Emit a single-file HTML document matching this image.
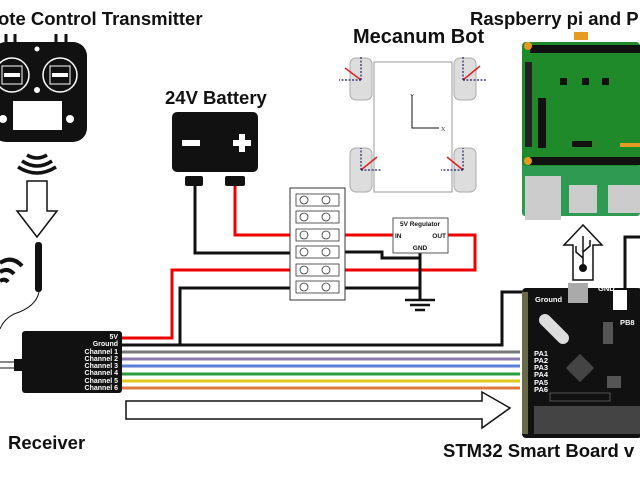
<!DOCTYPE html>
<html><head><meta charset="utf-8"><style>
html,body{margin:0;padding:0;background:#fff;width:640px;height:480px;overflow:hidden}
svg{display:block;font-family:"Liberation Sans",sans-serif}
</style></head><body>
<svg width="640" height="480" viewBox="0 0 640 480" xmlns="http://www.w3.org/2000/svg">
<rect width="640" height="480" fill="#fff"/>
<g>
<path d="M6,42 v-8 M15,42 v-8 M56,42 v-8 M66,42 v-8" stroke="#111" stroke-width="3"/>
<rect x="-8" y="42" width="95" height="100" rx="14" fill="#111"/>
<circle cx="12" cy="75" r="17" fill="none" stroke="#fff" stroke-width="1.5"/>
<circle cx="60" cy="75" r="17" fill="none" stroke="#fff" stroke-width="1.5"/>
<rect x="2" y="66" width="20" height="18" fill="none" stroke="#fff"/><rect x="50" y="66" width="20" height="18" fill="none" stroke="#fff"/>
<rect x="4" y="73" width="16" height="4" fill="#fff"/><rect x="52" y="73" width="16" height="4" fill="#fff"/>
<circle cx="37" cy="49" r="2.5" fill="#fff"/><circle cx="37" cy="90" r="3" fill="#fff"/>
<rect x="13" y="101" width="49" height="29" fill="#fff"/>
<circle cx="3" cy="119" r="4" fill="#fff"/><circle cx="70" cy="119" r="4" fill="#fff"/>
</g>
<g fill="none" stroke="#111" stroke-width="3.5">
<path d="M27,155 q10,6 20,0"/><path d="M22,161 q15,10 30,0"/><path d="M18,167 q19,12 38,0"/>
</g>
<path d="M27,181 h20 v30 h10 l-20,26 l-20,-26 h10 z" fill="#fff" stroke="#111" stroke-width="1.5"/>
<rect x="35" y="242" width="7" height="50" rx="3" fill="#111"/>
<path d="M0,263 q12,-8 22,3 M0,272 q8,-5 14,2 M0,281 q5,-3 8,1" fill="none" stroke="#111" stroke-width="4"/>
<path d="M39,292 q-3,15 -25,22 q-10,5 -14,15" fill="none" stroke="#111" stroke-width="1"/>
<path d="M0,362 h22 M0,368 h22" stroke="#888" stroke-width="2"/>
<rect x="14" y="359" width="10" height="12" fill="#111"/>
<rect x="22" y="331" width="100" height="62" rx="3" fill="#111"/>
<g fill="#fff" font-size="7" font-weight="bold" text-anchor="end">
<text x="118" y="339">5V</text><text x="118" y="346">Ground</text><text x="118" y="354">Channel 1</text><text x="118" y="361">Channel 2</text><text x="118" y="368">Channel 3</text><text x="118" y="375">Channel 4</text><text x="118" y="383">Channel 5</text><text x="118" y="390">Channel 6</text>
</g>
<g stroke-width="3" fill="none">
<path d="M122,352 H520" stroke="#777"/>
<path d="M122,359 H520" stroke="#8a78b0"/>
<path d="M122,366 H520" stroke="#5b7fd6"/>
<path d="M122,374 H520" stroke="#2a9d3c"/>
<path d="M122,381 H520" stroke="#e1c81a"/>
<path d="M122,388 H520" stroke="#e07840"/>
<path d="M122,338 H172 V270 H290" stroke="#e00"/>
<path d="M122,345 H502 V292 H522 M180,345 V288 H290" stroke="#111"/>
<path d="M195,186 V253 H290" stroke="#111"/>
<path d="M235,186 V235 H290" stroke="#e00"/>
<path d="M345,235 H393 M345,270 H475 V235 H448" stroke="#e00"/>
<path d="M345,252 H382 V258 H420 M345,288 H420 M420,253 V300" stroke="#111"/>
<path d="M625,290 V237 H640" stroke="#111"/>
</g>
<path d="M405,300 h30 M410,305 h20 M415,310 h10" stroke="#111" stroke-width="2.5"/>
<rect x="172" y="112" width="86" height="60" rx="5" fill="#111"/>
<rect x="182" y="140" width="18" height="6" fill="#fff"/>
<path d="M233,143 h18 M242,134 v18" stroke="#fff" stroke-width="6"/>
<rect x="185" y="176" width="18" height="10" rx="2" fill="#111"/><rect x="225" y="176" width="20" height="10" rx="2" fill="#111"/>
<rect x="290" y="188" width="55" height="112" fill="#fff" stroke="#333"/>
<g fill="none" stroke="#333" stroke-width="0.8">
<rect x="296" y="194" width="43" height="12"/><rect x="296" y="211" width="43" height="12"/><rect x="296" y="229" width="43" height="12"/><rect x="296" y="246" width="43" height="12"/><rect x="296" y="264" width="43" height="12"/><rect x="296" y="281" width="43" height="12"/>
<circle cx="304" cy="200" r="4"/><circle cx="326" cy="200" r="4"/><circle cx="304" cy="217" r="4"/><circle cx="326" cy="217" r="4"/><circle cx="304" cy="235" r="4"/><circle cx="326" cy="235" r="4"/><circle cx="304" cy="252" r="4"/><circle cx="326" cy="252" r="4"/><circle cx="304" cy="270" r="4"/><circle cx="326" cy="270" r="4"/><circle cx="304" cy="287" r="4"/><circle cx="326" cy="287" r="4"/>
</g>
<rect x="393" y="218" width="55" height="35" fill="#fff" stroke="#555"/>
<g font-size="6.5" font-weight="bold" fill="#111">
<text x="420" y="226" text-anchor="middle">5V Regulator</text>
<text x="395" y="238">IN</text><text x="446" y="238" text-anchor="end">OUT</text>
<text x="420" y="250" text-anchor="middle">GND</text>
</g>
<rect x="374" y="62" width="78" height="130" fill="#fff" stroke="#999"/>
<g fill="#ddd" stroke="#aaa">
<rect x="350" y="58" width="22" height="42" rx="6"/><rect x="454" y="58" width="22" height="42" rx="6"/>
<rect x="350" y="148" width="22" height="44" rx="6"/><rect x="454" y="148" width="22" height="44" rx="6"/>
</g>
<g stroke="#d22" stroke-width="1.5">
<path d="M361,80 L345,68 M463,80 L480,66 M361,170 L377,157 M463,170 L447,157"/>
</g>
<g stroke="#226" stroke-dasharray="2,1.5" stroke-width="1.2">
<path d="M361,80 V56 M361,80 H339 M463,80 V56 M463,80 H486 M361,170 V148 M361,170 H382 M463,170 V148 M463,170 H441"/>
</g>
<path d="M412,95 V128 H439" fill="none" stroke="#111"/>
<g font-size="6" font-family="Liberation Serif" fill="#333"><text x="410" y="98">Y</text><text x="441" y="131">X</text></g>
<rect x="522" y="150" width="118" height="66" rx="3" fill="#2e9a52"/>
<rect x="522" y="42" width="118" height="124" rx="4" fill="#1f8a2a"/>
<rect x="530" y="45" width="110" height="8" fill="#111"/>
<rect x="530" y="157" width="110" height="8" fill="#111"/>
<rect x="525" y="62" width="7" height="85" fill="#222"/>
<rect x="538" y="98" width="8" height="50" fill="#111"/>
<circle cx="528" cy="46" r="4" fill="#e59b22"/><circle cx="528" cy="161" r="4" fill="#e59b22"/>
<rect x="560" y="78" width="7" height="7" fill="#111"/><rect x="582" y="78" width="7" height="7" fill="#111"/><rect x="602" y="78" width="7" height="7" fill="#111"/>
<rect x="572" y="141" width="20" height="6" fill="#111"/>
<rect x="574" y="32" width="14" height="8" fill="#e59b22"/>
<rect x="525" y="176" width="36" height="44" fill="#ccc"/>
<rect x="569" y="185" width="28" height="28" fill="#ccc"/><rect x="608" y="185" width="32" height="28" fill="#ccc"/>
<rect x="620" y="143" width="20" height="4" fill="#e59b22"/>
<path d="M583,225 l-19,20 h9 v35 h20 v-35 h9 z" fill="#fff" stroke="#111" stroke-width="1.5"/>
<circle cx="583" cy="268" r="4" fill="#111"/><path d="M583,236 v32 M583,258 l-7,-6 v-6 M583,252 l7,-6 v-6" stroke="#111" fill="none" stroke-width="1.5"/>
<rect x="522" y="288" width="120" height="150" rx="4" fill="#111"/>
<rect x="522" y="292" width="6" height="142" fill="#6a6a4a"/>
<rect x="568" y="283" width="20" height="20" fill="#aaa"/>
<rect x="613" y="290" width="14" height="20" fill="#fff"/>
<rect x="534" y="406" width="108" height="28" fill="#444"/>
<rect x="550" y="393" width="60" height="8" fill="none" stroke="#555"/>
<rect x="570" y="358" width="20" height="20" fill="#444" transform="rotate(45 580 368)"/>
<rect x="603" y="322" width="10" height="22" fill="#555"/><rect x="607" y="376" width="14" height="12" fill="#555"/>
<path d="M545,320 l18,18" stroke="#ddd" stroke-width="12" stroke-linecap="round"/>
<g fill="#fff" font-size="7.5" font-weight="bold">
<text x="535" y="302">Ground</text><text x="598" y="291">GND</text><text x="620" y="325">PB8</text>
<text x="534" y="356">PA1</text><text x="534" y="363">PA2</text><text x="534" y="370">PA3</text><text x="534" y="377">PA4</text><text x="534" y="385">PA5</text><text x="534" y="392">PA6</text>
</g>
<path d="M126,401 H482 V392 L510,408 L482,428 V419 H126 Z" fill="#fff" stroke="#111" stroke-width="1.5"/>
<g font-weight="bold" fill="#111" font-size="18.5">
<text x="-2" y="25">ote Control Transmitter</text>
<text x="165" y="104">24V Battery</text>
<text x="353" y="43" font-size="20">Mecanum Bot</text>
<text x="470" y="25">Raspberry pi and P</text>
<text x="8" y="449">Receiver</text>
<text x="443" y="457">STM32 Smart Board v</text>
</g>
</svg>
</body></html>
